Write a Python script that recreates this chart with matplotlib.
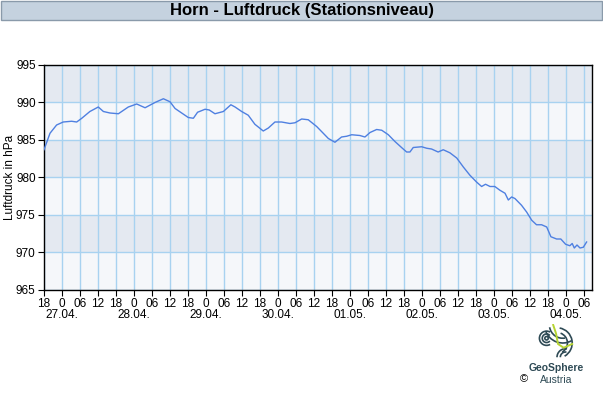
import numpy as np
import matplotlib.pyplot as plt
import matplotlib.transforms as mtrans
from matplotlib.patches import Rectangle, Arc

plt.rcParams['font.family'] = ['Liberation Sans', 'DejaVu Sans']

# hours since 26.04. 18:00
hours = [0, 2, 4.2, 6.4, 9.2, 10.9, 12.6, 15.3, 18.1, 19.8, 22, 24.8, 28.1, 30.9,
         33.7, 37, 39.8, 42, 43.7, 45.9, 48.1, 49.8, 51.2, 53.7, 55.1, 57, 59.8,
         62.3, 63.7, 65.9, 68.1, 70.3, 73.1, 74.8, 77, 79.2, 82, 83.7, 85.9, 88.1,
         90.9, 93.1, 94.8, 97, 99.2, 100.9, 102.6, 105.3, 107, 108.7, 110.9, 112.6,
         114.8, 117, 119.2, 120.9, 122, 123.1, 125.9, 127.6, 129.2, 131.4, 133.1,
         135.3, 137.6, 139.8, 142, 144.2, 145.9, 147.2, 148.7, 150.3, 152, 153.7,
         154.8, 155.9, 157, 159.2, 160.9, 162.6, 164.2, 165.9, 167.6, 169, 170.9,
         172.3, 173.9, 175.3, 176.1, 176.8, 177.7, 178.7, 179.8, 180.9]
pressure = [983.7, 985.9, 987.0, 987.4, 987.5, 987.4, 987.9, 988.8, 989.4, 988.8,
            988.6, 988.5, 989.4, 989.8, 989.3, 990.0, 990.5, 990.1, 989.2, 988.6,
            988.0, 987.9, 988.7, 989.1, 989.0, 988.5, 988.8, 989.7, 989.4, 988.8,
            988.3, 987.1, 986.2, 986.6, 987.4, 987.4, 987.2, 987.3, 987.8, 987.7,
            986.8, 985.9, 985.2, 984.7, 985.4, 985.5, 985.7, 985.6, 985.4, 986.0,
            986.4, 986.3, 985.7, 984.8, 984.0, 983.4, 983.4, 984.0, 984.1, 983.9,
            983.8, 983.4, 983.7, 983.3, 982.6, 981.4, 980.3, 979.4, 978.8, 979.1,
            978.8, 978.8, 978.3, 977.9, 977.0, 977.4, 977.2, 976.3, 975.4, 974.3,
            973.7, 973.7, 973.4, 972.1, 971.8, 971.8, 971.1, 970.9, 971.2, 970.6,
            971.0, 970.6, 970.7, 971.4]
dates = ['27.04.', '28.04.', '29.04.', '30.04.', '01.05.', '02.05.', '03.05.', '04.05.']
hour_names = ['18', '0', '06', '12']

fig = plt.figure(figsize=(6.03, 4.0), dpi=100)

# title bar
fig.patches.append(Rectangle((0.001, 1 - 20 / 400), 0.997, 19.5 / 400, transform=fig.transFigure,
                             facecolor='#c5d2df', edgecolor='#8a9aaa', linewidth=1))
fig.text(0.5, 1 - 10.5 / 400, 'Horn - Luftdruck (Stationsniveau)', ha='center', va='center',
         fontsize=12, fontweight='bold')

ax = fig.add_axes([44 / 603, 110 / 400, 548 / 603, 225 / 400])
ax.set_xlim(0, 182.7)
ax.set_ylim(965, 995)

for i, lo in enumerate(range(965, 995, 5)):
    ax.axhspan(lo, lo + 5, color='#e4e9f1' if i % 2 else '#f5f7fa', zorder=0, lw=0)

ax.plot(hours, pressure, color='#4f80e1', lw=1.0, zorder=3)

ticks = np.arange(0, 181, 6)
ax.set_xticks(ticks)
ax.set_xticklabels([hour_names[int(t // 6) % 4] for t in ticks], fontsize=8.5)
trans = mtrans.blended_transform_factory(ax.transData, ax.transAxes)
for i, d in enumerate(dates):
    ax.text(6 + 24 * i, -0.112, d, transform=trans, ha='center', va='center', fontsize=8.5)

ax.set_yticks(range(965, 1000, 5))
ax.tick_params(axis='y', labelsize=8.5, length=4, direction='out', pad=2)
ax.tick_params(axis='x', length=4, direction='out', pad=2)
ax.grid(True, color='#a8d2f0', lw=1, zorder=1)
ax.set_axisbelow(True)
for s in ax.spines.values():
    s.set_color('black')
    s.set_linewidth(1)
ax.set_ylabel('Luftdruck in hPa', fontsize=8.5)
ax.yaxis.set_label_coords(-28 / 548, 0.5)

# logo
lax = fig.add_axes([538 / 603, 38 / 400, 38 / 603, 38 / 400])
lax.set_xlim(-1, 1)
lax.set_ylim(-1, 1)
lax.set_aspect('equal')
lax.axis('off')
teal = '#2e4a55'
for r, a1, a2 in [(0.75, 60, 300), (0.45, 40, 320), (0.18, 0, 360)]:
    lax.add_patch(Arc((-0.55, 0.25), r, r, theta1=a1, theta2=a2, color=teal, lw=1.2))
for r, a1, a2 in [(1.9, 200, 300), (1.4, 190, 280)]:
    lax.add_patch(Arc((0.3, 0.95), r, r, theta1=a1, theta2=a2, color=teal, lw=1.2))
for r, a1, a2 in [(1.6, 300, 80), (1.1, 300, 70)]:
    lax.add_patch(Arc((0.0, 0.0), r, r, theta1=a1, theta2=a2, color=teal, lw=1.2))
for r, a1, a2 in [(0.9, 80, 180), (0.55, 80, 180)]:
    lax.add_patch(Arc((0.45, -0.75), r, r, theta1=a1, theta2=a2, color=teal, lw=1.2))
lax.plot([-0.2, -0.05, 0.05, 0.35, 0.8], [0.95, 0.5, -0.05, -0.25, -0.05], color='#b7d433', lw=1.4)

fig.text(556 / 603, 1 - 368 / 400, 'GeoSphere', ha='center', va='center', fontsize=7.5,
         fontweight='bold', color=teal)
fig.text(556 / 603, 1 - 380 / 400, 'Austria', ha='center', va='center', fontsize=7.5, color=teal)
fig.text(524 / 603, 1 - 379 / 400, '©', ha='center', va='center', fontsize=8, color='black')

fig.savefig('out.png', dpi=100)
